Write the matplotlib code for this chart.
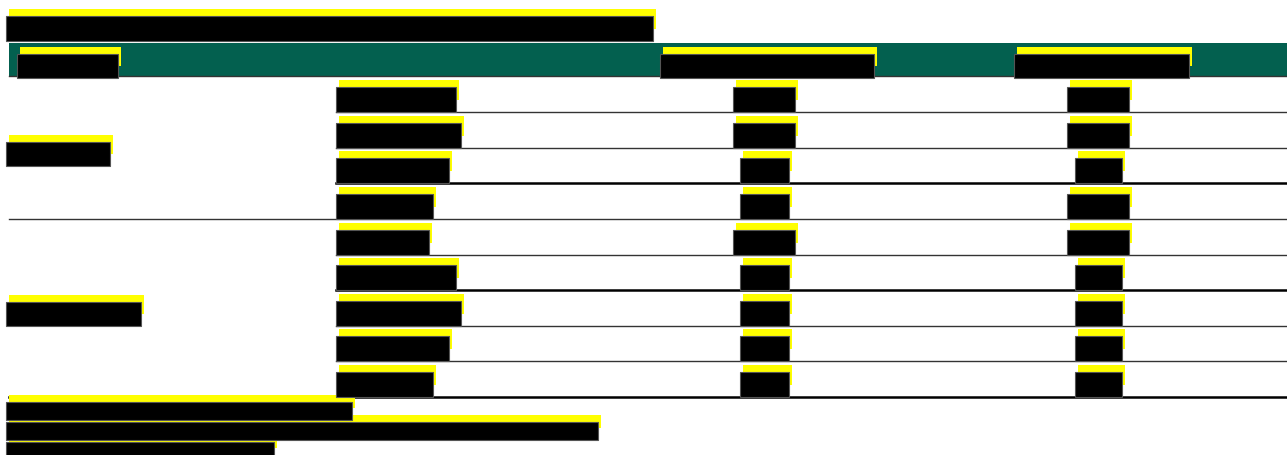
import matplotlib.pyplot as plt
from matplotlib.patches import Rectangle

# Redacted table: every label is hidden under a black box with a yellow offset.
# The values below are the widths (px) of the hidden texts.
title_width = 647
header_widths = [101, 214, 175]          # row label header, column 2, column 3
group_label_widths = [104, 135]
group_rows = [4, 5]                     # rows in each group
col1_widths = [120, 125, 113, 97, 93, 120, 125, 113, 97]
col2_widths = [62, 62, 49, 49, 62, 49, 49, 49, 49]
col3_widths = [62, 62, 47, 62, 62, 47, 47, 47, 47]
thick_after = [3, 6, 9]                 # thicker rule below these rows (1-based)
footnote_widths = [346, 592, 268]

W, H = 1287, 455
row_h = 35.6
row_top0 = 76.5
teal = '#03604f'

fig = plt.figure(figsize=(W / 100, H / 100), dpi=100)
ax = fig.add_axes([0, 0, 1, 1])
ax.set_xlim(0, W)
ax.set_ylim(H, 0)
ax.axis('off')


def redact(x0, x1, y0, y1):
    ax.add_patch(Rectangle((x0 + 3, y0 - 7), x1 - x0, y1 - y0 - 5,
                           facecolor='#ffff00', edgecolor='none', zorder=3))
    ax.add_patch(Rectangle((x0, y0), x1 - x0, y1 - y0, facecolor='black',
                           edgecolor='#555555', linewidth=0.8, zorder=4))


# title
redact(6, 6 + title_width, 16, 41)

# header band
ax.add_patch(Rectangle((9, 43), W - 9, 33, facecolor=teal, edgecolor='none', zorder=1))
ax.plot([9, W], [76, 76], color='#333333', linewidth=1, zorder=2)
redact(17, 17 + header_widths[0], 54, 78)
redact(660, 660 + header_widths[1], 54, 78)
redact(1014, 1014 + header_widths[2], 54, 78)

# body rows
n_rows = len(col1_widths)
for i in range(n_rows):
    bottom = row_top0 + (i + 1) * row_h
    top = bottom - 25
    redact(336, 336 + col1_widths[i], top, bottom)
    redact(764 - col2_widths[i] / 2, 764 + col2_widths[i] / 2, top, bottom)
    redact(1098 - col3_widths[i] / 2, 1098 + col3_widths[i] / 2, top, bottom)

# group labels and rules
row_end = 0
for g, n in enumerate(group_rows):
    start = row_end
    row_end += n
    mid = row_top0 + (start + row_end) / 2 * row_h + 6
    redact(6, 6 + group_label_widths[g], mid - 12, mid + 12)
    for r in range(start + 1, row_end + 1):
        y = row_top0 + r * row_h
        x0 = 9 if r == row_end else 336
        if r in thick_after:
            ax.plot([x0, W], [y, y], color='black', linewidth=1.8, zorder=2)
        else:
            ax.plot([x0, W], [y, y], color='#333333', linewidth=1, zorder=2)

# footnotes
for k, w in enumerate(footnote_widths):
    y0 = 402 + k * 20
    redact(6, 6 + w, y0, y0 + 18)

fig.savefig('out.png', dpi=100)
